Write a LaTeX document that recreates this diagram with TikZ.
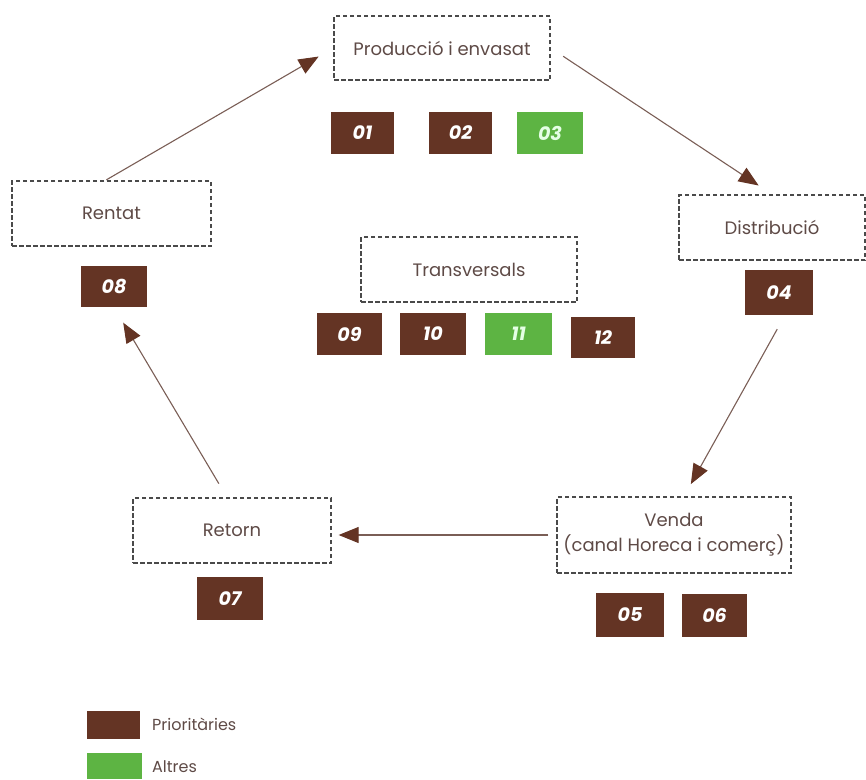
\documentclass[tikz,border=0pt]{standalone}
\usepackage{fontspec}
\setmainfont{Poppins}
\usetikzlibrary{arrows.meta,calc}
\definecolor{brn}{HTML}{643424}
\definecolor{grn}{HTML}{5DB443}
\definecolor{txt}{HTML}{5E4A46}
\definecolor{dsh}{HTML}{4A4A4A}
\definecolor{arr}{HTML}{7A5E56}
\tikzset{
  stage/.style={draw=dsh, dash pattern=on 4.5pt off 2.5pt, line width=1.3pt, text=txt,
    font=\fontsize{18}{25}\selectfont, align=center, inner sep=0pt},
  numbox/.style={fill=brn, text=white, inner sep=0pt,
    font=\fontsize{19}{20}\selectfont\bfseries\itshape},
  grnbox/.style={numbox, fill=grn, text=green!10!white},
  flow/.style={draw=arr, line width=1.1pt, -{Triangle[length=20pt,width=16pt,fill=brn,color=brn]}},
  legtxt/.style={text=txt, font=\fontsize{16}{18}\selectfont, anchor=west, inner sep=0pt}
}
\begin{document}
\begin{tikzpicture}[x=1pt,y=-1pt]
\useasboundingbox (0,0) rectangle (866,779);
% stages
\node[stage, minimum width=216pt, minimum height=64pt] (prod) at (442,48) {Producció i envasat};
\node[stage, minimum width=186pt, minimum height=65pt] (dist) at (772,227.5) {Distribució};
\node[stage, minimum width=199pt, minimum height=65pt] (rentat) at (111.5,213.5) {Rentat};
\node[stage, minimum width=216pt, minimum height=65pt] (trans) at (469,269.5) {Transversals};
\node[stage, minimum width=234pt, minimum height=76pt] (venda) at (674,535) {Venda\\(canal Horeca i comerç)};
\node[stage, minimum width=198pt, minimum height=65pt] (retorn) at (232,530.5) {Retorn};
% numbered boxes
\node[numbox, minimum width=63pt, minimum height=42pt] (n01) at (362.5,133) {01};
\node[numbox, minimum width=63pt, minimum height=42pt] (n02) at (460.5,133) {02};
\node[grnbox, minimum width=66pt, minimum height=42pt] (n03) at (550,133) {03};
\node[numbox, minimum width=68pt, minimum height=45pt] (n04) at (779,292.5) {04};
\node[numbox, minimum width=68pt, minimum height=44pt] (n05) at (630,615) {05};
\node[numbox, minimum width=65pt, minimum height=43pt] (n06) at (714.5,615.5) {06};
\node[numbox, minimum width=66pt, minimum height=43pt] (n07) at (230,598.5) {07};
\node[numbox, minimum width=66pt, minimum height=41pt] (n08) at (114,286.5) {08};
\node[numbox, minimum width=65pt, minimum height=42pt] (n09) at (349.5,334) {09};
\node[numbox, minimum width=66pt, minimum height=42pt] (n10) at (433,334) {10};
\node[grnbox, minimum width=67pt, minimum height=42pt] (n11) at (518.5,334) {11};
\node[numbox, minimum width=64pt, minimum height=41pt] (n12) at (603,337.5) {12};
% arrows
\draw[flow, shorten <=15pt, shorten >=16pt] (prod.east) -- (dist.north);
\draw[flow, shorten <=16pt, shorten >=14pt] ($(n04.south)+(6,0)$) -- ($(venda.north)+(10,0)$);
\draw[flow, shorten <=8pt, shorten >=7pt] (venda.west) -- (venda.west -| retorn.east);
\draw[flow, shorten <=16pt, shorten >=18pt] ($(retorn.north)+(-5,0)$) -- (n08.south);
\draw[flow, shorten <=1pt, shorten >=17pt] ($(rentat.north)+(-6,0)$) -- (prod.west);
% legend
\node[fill=brn, minimum width=53pt, minimum height=28pt, inner sep=0pt] (lp) at (113.5,725) {};
\node[fill=grn, minimum width=55pt, minimum height=26pt, inner sep=0pt] (la) at (114.5,766) {};
\node[legtxt] (lpt) at (152,724) {Prioritàries};
\node[legtxt] (lat) at (152,767) {Altres};
\end{tikzpicture}
\end{document}
